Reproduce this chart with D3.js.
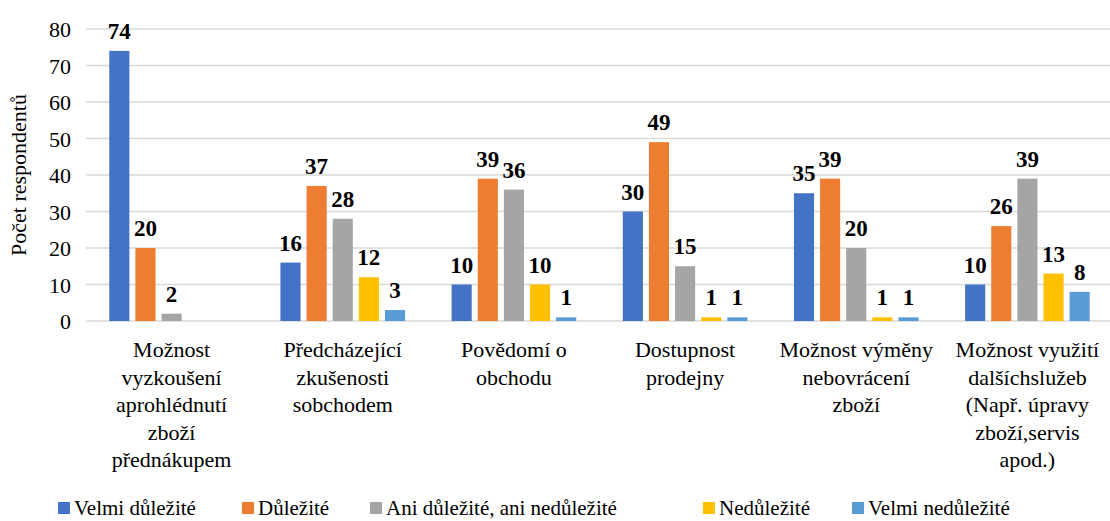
<!DOCTYPE html>
<html>
<head>
<meta charset="utf-8">
<script src="https://cdn.jsdelivr.net/npm/d3@7"></script>
</head>
<body>
<svg id="s" width="1110" height="521" style="position:absolute;left:0;top:0">
<text transform="translate(26,175) rotate(-90)" text-anchor="middle" style="font-family:'Liberation Serif'; font-size:22px">Počet respondentů</text>
</svg>
<script>
// categories (each as wrapped lines, like the original)
const categories = [
  ["Možnost", "vyzkoušení", "aprohlédnutí", "zboží", "přednákupem"],
  ["Předcházející", "zkušenosti", "sobchodem"],
  ["Povědomí o", "obchodu"],
  ["Dostupnost", "prodejny"],
  ["Možnost výměny", "nebovrácení", "zboží"],
  ["Možnost využití", "dalšíchslužeb", "(Např. úpravy", "zboží,servis", "apod.)"]
]
const seriesNames = ["Velmi důležité", "Důležité", "Ani důležité, ani nedůležité", "Nedůležité", "Velmi nedůležité"]
const colors = ["#4472C4", "#ED7D31", "#A5A5A5", "#FFC000", "#5B9BD5"]

const velmiDulezite   = [74, 16, 10, 30, 35, 10]
const dulezite        = [20, 37, 39, 49, 39, 26]
const ani             = [2, 28, 36, 15, 20, 39]
const nedulezite      = [null, 12, 10, 1, 1, 13]
const velmiNedulezite = [null, 3, 1, 1, 1, 8]
const series = [velmiDulezite, dulezite, ani, nedulezite, velmiNedulezite]

const yTicks = [0, 10, 20, 30, 40, 50, 60, 70, 80]

const svg = d3.select("#s")

const plotLeft = 86, plotRight = 1113
const y = d3.scaleLinear().domain([0, 80]).range([321, 29])

const x0 = d3.scaleBand()
  .domain(d3.range(categories.length))
  .range([plotLeft, plotRight])
  .paddingInner(0.272)
  .paddingOuter(0.136)

const x1 = d3.scaleBand()
  .domain(d3.range(series.length))
  .range([0, x0.bandwidth()])
  .paddingInner(0.23)

// gridlines
svg.insert("g", "text")
  .selectAll("line")
  .data(yTicks)
  .join("line")
    .attr("x1", plotLeft)
    .attr("x2", plotRight)
    .attr("y1", d => y(d))
    .attr("y2", d => y(d))
    .attr("stroke", "#d9d9d9")
    .attr("stroke-width", 1.5)

// y tick labels
svg.append("g")
  .selectAll("text")
  .data(yTicks)
  .join("text")
    .attr("x", 71)
    .attr("y", d => y(d) + 8)
    .attr("text-anchor", "end")
    .style("font-family", "'Liberation Serif'")
    .style("font-size", "22px")
    .text(d => d)

// bars
const groups = svg.append("g")
  .selectAll("g")
  .data(categories)
  .join("g")
    .attr("transform", (d, i) => `translate(${x0(i)},0)`)

groups.each(function(cat, ci) {
  const g = d3.select(this)
  const vals = series.map((s, si) => ({si, v: s[ci]})).filter(d => d.v != null)
  g.selectAll("rect")
    .data(vals)
    .join("rect")
      .attr("x", d => x1(d.si))
      .attr("width", x1.bandwidth())
      .attr("y", d => y(d.v))
      .attr("height", d => y(0) - y(d.v))
      .attr("fill", d => colors[d.si])
  g.selectAll("text")
    .data(vals)
    .join("text")
      .attr("x", d => x1(d.si) + x1.bandwidth() / 2)
      .attr("y", d => y(d.v) - 12)
      .attr("text-anchor", "middle")
      .style("font-family", "'Liberation Serif'")
      .style("font-size", "23px")
      .style("font-weight", "bold")
      .text(d => d.v)
})

// category labels
categories.forEach((lines, i) => {
  lines.forEach((line, j) => {
    svg.append("text")
      .attr("x", x0(i) + x0.bandwidth() / 2)
      .attr("y", 357 + j * 27.5)
      .attr("text-anchor", "middle")
      .style("font-family", "'Liberation Serif'")
      .style("font-size", "22px")
      .text(line)
  })
})

// legend
const legendX = [58, 242, 370, 703, 852]
seriesNames.forEach((name, i) => {
  svg.append("rect")
    .attr("x", legendX[i]).attr("y", 502).attr("width", 12).attr("height", 12)
    .attr("fill", colors[i])
  svg.append("text")
    .attr("x", legendX[i] + 16).attr("y", 515)
    .style("font-family", "'Liberation Serif'")
    .style("font-size", "21px")
    .text(name)
})
</script>
</body>
</html>
